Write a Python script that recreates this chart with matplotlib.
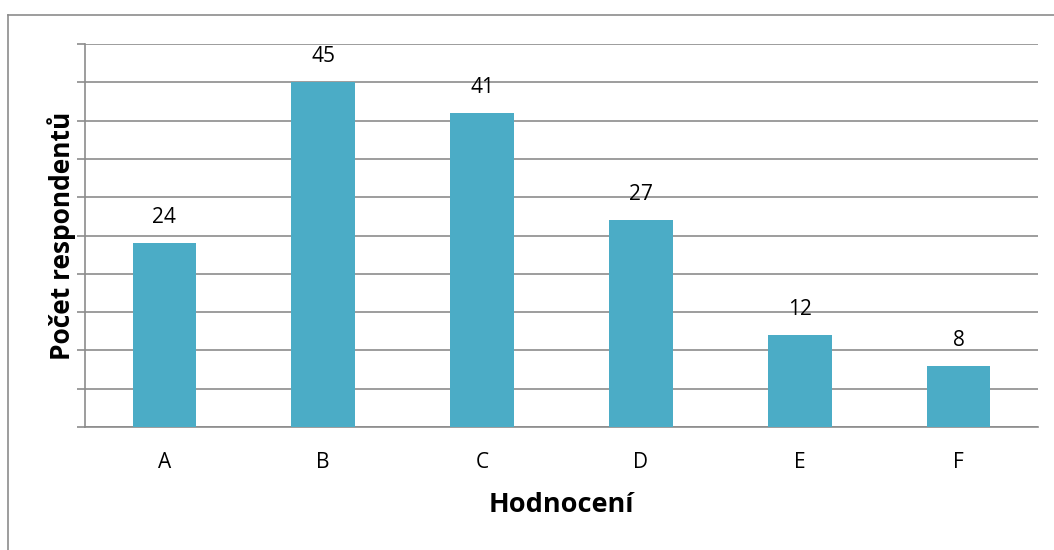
import matplotlib
matplotlib.use("Agg")
import matplotlib.pyplot as plt
from matplotlib.lines import Line2D

categories = ["A", "B", "C", "D", "E", "F"]
values = [24, 45, 41, 27, 12, 8]
y_ticks = list(range(0, 51, 5))

plt.rcParams['font.family'] = ['Open Sans', 'DejaVu Sans']

W, H = 1054, 550
fig = plt.figure(figsize=(W / 100, H / 100), dpi=100)
fig.patch.set_facecolor("white")

L, R, T, B = 85, 1038, 44, 427
ax = fig.add_axes([L / W, 1 - B / H, (R - L) / W, (B - T) / H])

grid_c = "#8c8c8c"
x = range(len(categories))
bars = ax.bar(x, values, width=0.4, color="#4BACC6", zorder=3)

ax.set_xlim(-0.5, len(categories) - 0.5)
ax.set_ylim(0, 50)
ax.set_yticks(y_ticks)
ax.set_yticklabels([])
ax.yaxis.grid(True, color=grid_c, linewidth=1.2, zorder=0)
ax.set_axisbelow(True)
ax.tick_params(axis="y", length=5.8, width=1.2, color=grid_c, direction="out")
ax.set_xticks(list(x))
ax.set_xticklabels(categories, fontsize=15)
ax.tick_params(axis="x", length=0, pad=18)

for s in ["top", "right"]:
    ax.spines[s].set_visible(False)
for s in ["left", "bottom"]:
    ax.spines[s].set_color(grid_c)
    ax.spines[s].set_linewidth(1.2)

for xi, v in zip(x, values):
    ax.annotate(str(v), (xi, v), xytext=(0, 20), textcoords="offset pixels",
                ha="center", va="baseline", fontsize=15)

fig.text(561.5 / W, 1 - 505 / H, "Hodnocení", ha="center", va="center",
         fontsize=19.5, fontweight="bold")
fig.text(62 / W, 1 - 236 / H, "Počet respondentů", ha="center", va="center",
         rotation=90, fontsize=19, fontweight="bold")

# outer chart frame
fig.add_artist(Line2D([8 / W, 8 / W], [0, 1 - 15 / H], transform=fig.transFigure,
                      color=grid_c, linewidth=1.2))
fig.add_artist(Line2D([8 / W, 1], [1 - 15 / H, 1 - 15 / H], transform=fig.transFigure,
                      color=grid_c, linewidth=1.2))

fig.savefig("out.png", dpi=100)
